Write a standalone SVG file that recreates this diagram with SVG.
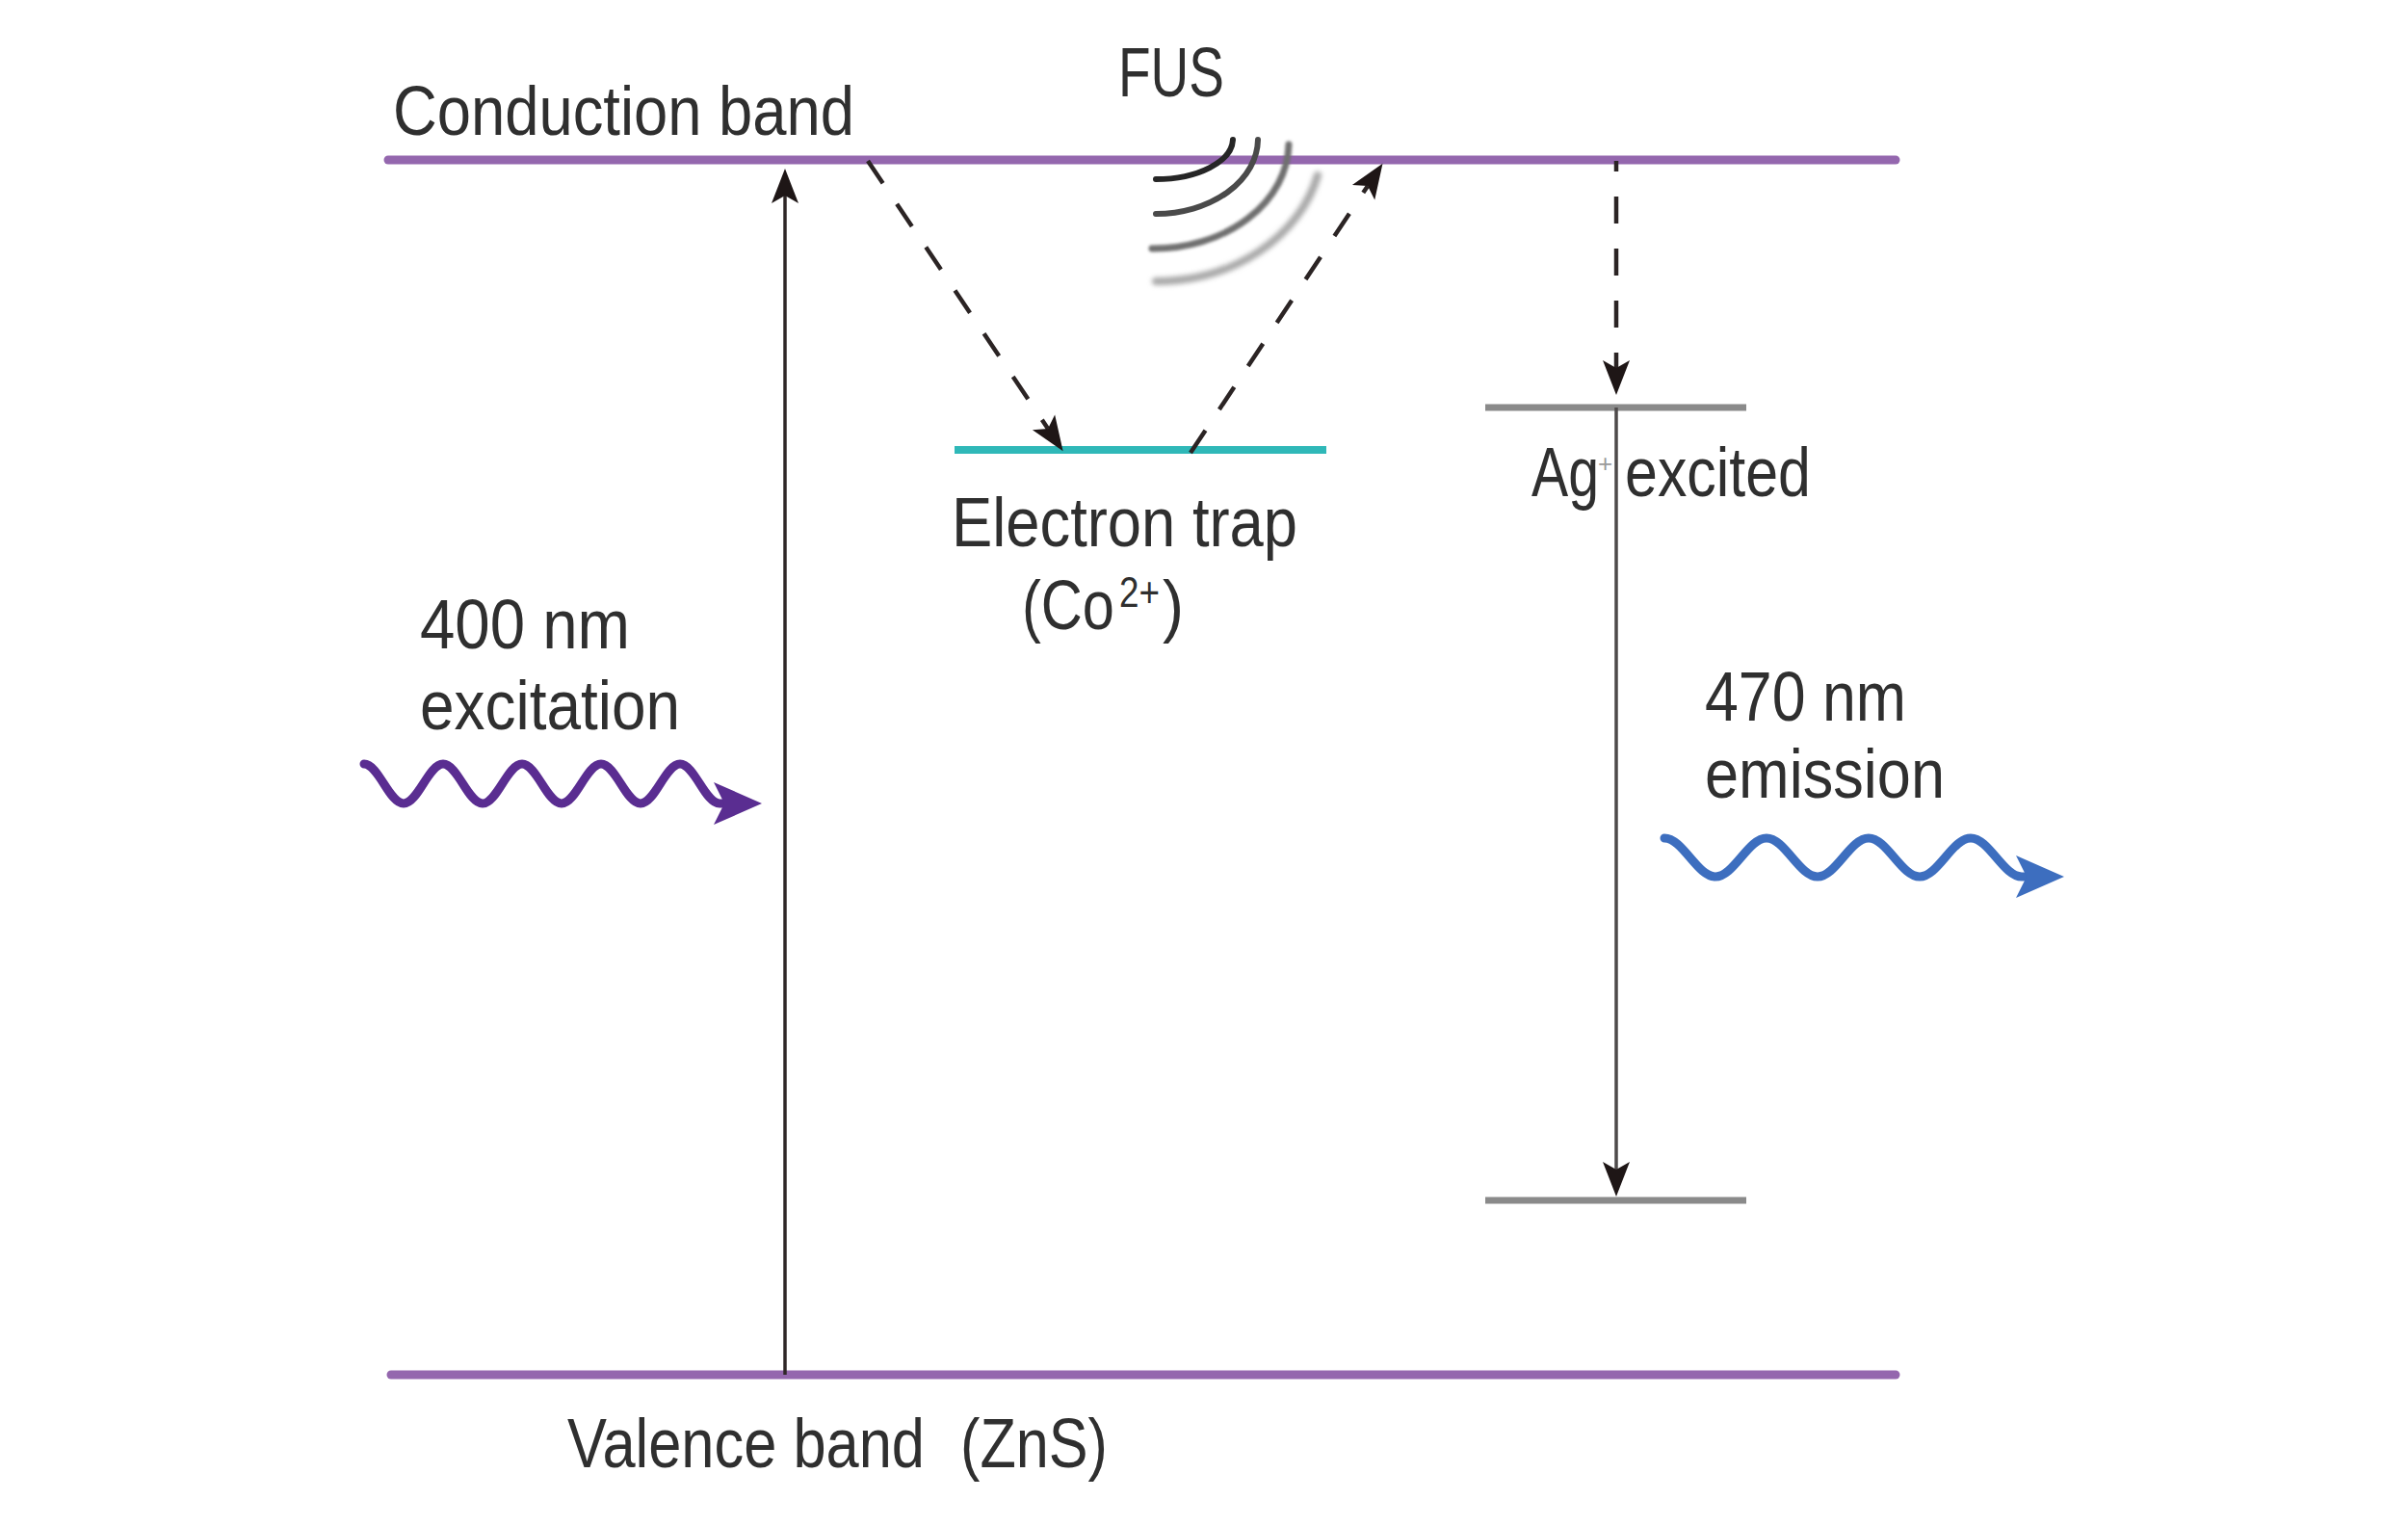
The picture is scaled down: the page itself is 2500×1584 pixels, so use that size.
<svg xmlns="http://www.w3.org/2000/svg" width="2500" height="1584" viewBox="0 0 2500 1584">
<defs>
<style>
.lbl{font-family:"Liberation Sans",Arial,sans-serif;font-size:72px;fill:#2f2f2f}
.band{stroke:#9467ae;stroke-width:9;stroke-linecap:round}
.level{stroke:#8a8a8a;stroke-width:7}
.trap{stroke:#2fb8b8;stroke-width:8}
.arr{stroke:#2f2727;stroke-width:3.5;fill:none}
.dash{stroke:#2b2424;stroke-width:4.5;fill:none;stroke-dasharray:28 26}
.wave{fill:none;stroke-width:9;stroke-linecap:round}
.fus{fill:none;stroke-linecap:round}
</style>
<marker id="ah" markerUnits="userSpaceOnUse" viewBox="0 -16 38 32" refX="8" refY="0" markerWidth="38" markerHeight="32" orient="auto">
<path d="M0,-14 L36,0 L0,14 L8,0 Z" fill="#1e1616"/>
</marker>
<marker id="ahp" markerUnits="userSpaceOnUse" viewBox="0 -23 52 46" refX="11" refY="0" markerWidth="52" markerHeight="46" orient="auto">
<path d="M0,-22 L50,0 L0,22 L11,0 Z" fill="#5a2d91"/>
</marker>
<marker id="ahb" markerUnits="userSpaceOnUse" viewBox="0 -23 52 46" refX="11" refY="0" markerWidth="52" markerHeight="46" orient="auto">
<path d="M0,-22 L50,0 L0,22 L11,0 Z" fill="#3d6ebf"/>
</marker>
<filter id="soft" x="-20%" y="-20%" width="140%" height="140%"><feGaussianBlur stdDeviation="1.5"/></filter>
<filter id="softer" x="-20%" y="-20%" width="140%" height="140%"><feGaussianBlur stdDeviation="2.5"/></filter>
</defs>
<rect width="2500" height="1584" fill="#ffffff"/>

<g id="conduction-band">
<line class="band" x1="403" y1="166" x2="1968" y2="166"/>
<text class="lbl" x="408" y="140" textLength="479" lengthAdjust="spacingAndGlyphs">Conduction band</text>
</g>

<g id="valence-band">
<line class="band" x1="406" y1="1427" x2="1968" y2="1427"/>
<text class="lbl" x="589" y="1523"><tspan textLength="371" lengthAdjust="spacingAndGlyphs">Valence band</tspan><tspan x="997" textLength="153" lengthAdjust="spacingAndGlyphs">(ZnS)</tspan></text>
</g>

<g id="electron-trap">
<line class="trap" x1="991" y1="467" x2="1377" y2="467"/>
<text class="lbl" x="988" y="567"><tspan textLength="359" lengthAdjust="spacingAndGlyphs">Electron trap</tspan><tspan x="1061" y="653" textLength="96" lengthAdjust="spacingAndGlyphs">(Co</tspan><tspan x="1162" y="630" font-size="44" textLength="42" lengthAdjust="spacingAndGlyphs">2+</tspan><tspan x="1207" y="653" textLength="22" lengthAdjust="spacingAndGlyphs">)</tspan></text>
</g>

<g id="ag-excited">
<line class="level" x1="1542" y1="423" x2="1813" y2="423"/>
<text class="lbl" x="1590" y="515"><tspan textLength="70" lengthAdjust="spacingAndGlyphs">Ag</tspan><tspan x="1659" y="490" font-size="26" style="fill:#9a9a9a">+</tspan><tspan x="1687" y="515" textLength="193" lengthAdjust="spacingAndGlyphs">excited</tspan></text>
</g>

<g id="ag-ground">
<line class="level" x1="1542" y1="1246" x2="1813" y2="1246"/>
</g>

<g id="fus">
<text class="lbl" x="1161" y="100" textLength="110" lengthAdjust="spacingAndGlyphs">FUS</text>
<path class="fus" d="M1280,145 A80,42 0 0 1 1200,186" stroke="#262626" stroke-width="6"/>
<path class="fus" d="M1306,145 A106,78 0 0 1 1200,222" stroke="#4a4a4a" stroke-width="6"/>
<path class="fus" d="M1338,150 A140,110 0 0 1 1196,258" stroke="#707070" stroke-width="7" filter="url(#soft)"/>
<path class="fus" d="M1368,182 A172,145 0 0 1 1200,292" stroke="#a8a8a8" stroke-width="8" filter="url(#softer)"/>
</g>

<g id="excitation">
<text class="lbl" x="436" y="673"><tspan textLength="218" lengthAdjust="spacingAndGlyphs">400 nm</tspan><tspan x="436" y="757" textLength="270" lengthAdjust="spacingAndGlyphs">excitation</tspan></text>
<path class="wave" stroke="#5a2d91" marker-end="url(#ahp)" d="M378,793 C393,793 404,834 419,834 C434,834 445,793 460,793 C475,793 486,834 501,834 C516,834 527,793 542,793 C557,793 568,834 583,834 C598,834 609,793 624,793 C639,793 650,834 665,834 C680,834 691,793 706,793 C721,793 732,834 747,834 L752,834"/>
</g>

<g id="emission">
<text class="lbl" x="1770" y="748"><tspan textLength="209" lengthAdjust="spacingAndGlyphs">470 nm</tspan><tspan x="1770" y="828" textLength="249" lengthAdjust="spacingAndGlyphs">emission</tspan></text>
<path class="wave" stroke="#3d6ebf" marker-end="url(#ahb)" d="M1728,870 C1747,870 1762,910 1781,910 C1800,910 1815,870 1834,870 C1853,870 1868,910 1887,910 C1906,910 1921,870 1940,870 C1959,870 1974,910 1993,910 C2012,910 2027,870 2046,870 C2065,870 2080,910 2099,910 L2104,910"/>
</g>

<g id="connectors">
<line class="arr" x1="815" y1="1427" x2="815" y2="203" marker-end="url(#ah)"/>
<line class="arr" x1="1678" y1="423" x2="1678" y2="1214" marker-end="url(#ah)" style="stroke:#4e4a4a"/>
<line class="dash" x1="1678" y1="167" x2="1678" y2="382" stroke-dashoffset="17" marker-end="url(#ah)"/>
<line class="dash" x1="901" y1="167" x2="1088" y2="445" marker-end="url(#ah)"/>
<line class="dash" x1="1236" y1="470" x2="1420" y2="193" marker-end="url(#ah)"/>
</g>
</svg>
